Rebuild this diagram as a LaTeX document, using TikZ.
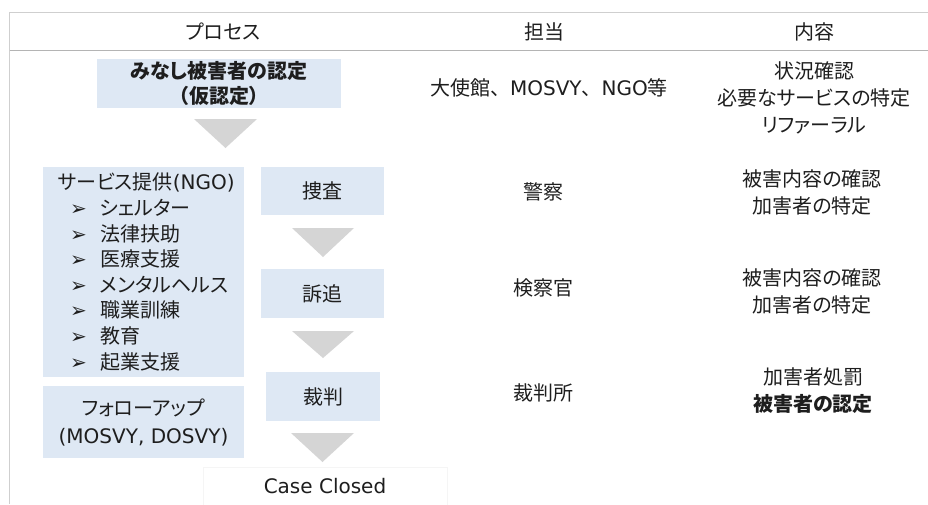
\documentclass[tikz,border=0pt]{standalone}
\usepackage{fontspec}
\setmainfont{Noto Sans CJK JP}[RawFeature=+palt]
\newfontfamily\jpw{Noto Sans CJK JP}
\newfontfamily\lat{DejaVu Sans}
\definecolor{boxblue}{HTML}{DEE8F4}
\definecolor{trigray}{HTML}{D5D5D5}
\definecolor{rulegray}{HTML}{CFCFCF}
\definecolor{headgray}{HTML}{B4B4B4}
\definecolor{txt}{HTML}{1E1E1E}
\newcommand{\bul}{\hspace*{12pt}\makebox[30pt][l]{\lat\fontsize{20}{20}\selectfont ➢}}
\begin{document}
\begin{tikzpicture}[x=1pt,y=-1pt,
  every node/.style={text=txt, inner sep=0pt, font=\fontsize{20}{27}\selectfont},
  procbox/.style={fill=boxblue, align=center},
  coltext/.style={align=center},
  tri/.style={fill=trigray}]
\fill[white] (0,0) rectangle (928,504);
\useasboundingbox (0,0) rectangle (928,504);
% table rules
\draw[rulegray, line width=1.5pt] (9.5,504) -- (9.5,12.5) -- (928,12.5);
\draw[headgray, line width=1.5pt] (9.5,50.5) -- (928,50.5);
% headers
\node (h1) at (223,32) {プロセス};
\node (h2) at (544,32) {担当};
\node (h3) at (814,32) {内容};
% process boxes
\node[procbox, minimum width=244pt, minimum height=49pt, font=\fontsize{20}{25}\selectfont\bfseries] (b1) at (219,83.5) {みなし被害者の認定\\（仮認定）};
\node[procbox, minimum width=201pt, minimum height=210pt, align=left, text width=171pt, font=\fontsize{20}{25.6}\selectfont] (svc) at (143.5,272)
  {サービス提供{\lat(NGO)}\\
   \bul シェルター\\
   \bul 法律扶助\\
   \bul 医療支援\\
   \bul メンタルヘルス\\
   \bul 職業訓練\\
   \bul 教育\\
   \bul 起業支援};
\node[procbox, minimum width=201pt, minimum height=72pt, font=\fontsize{20}{28}\selectfont] (fol) at (143.5,422) {フォローアップ\\{\lat(MOSVY, DOSVY)}};
\node[procbox, minimum width=123pt, minimum height=48pt] (s1) at (322.5,191) {捜査};
\node[procbox, minimum width=123pt, minimum height=49pt] (s2) at (322.5,293.5) {訴追};
\node[procbox, minimum width=114pt, minimum height=49pt] (s3) at (323,396.5) {裁判};
\node[draw=black!4, minimum width=244pt, minimum height=38pt] (cc) at (325,486) {\lat Case Closed};
% arrows (triangles)
\fill[tri] (194,119) -- (257,119) -- (225.5,148) -- cycle;
\fill[tri] (292,228) -- (354,228) -- (323,257) -- cycle;
\fill[tri] (292,331) -- (354,331) -- (323,358) -- cycle;
\fill[tri] (291,433) -- (354,433) -- (322.5,462) -- cycle;
% responsible
\node (r1) at (549,88) {大使館{\jpw 、}{\lat MOSVY}{\jpw 、}{\lat NGO}等};
\node (r2) at (543,192) {警察};
\node (r3) at (543,288) {検察官};
\node (r4) at (543,393) {裁判所};
% content
\node[coltext] (c1) at (814,98) {状況確認\\必要なサービスの特定\\リファーラル};
\node[coltext] (c2) at (812,192.5) {被害内容の確認\\加害者の特定};
\node[coltext] (c3) at (812,291) {被害内容の確認\\加害者の特定};
\node[coltext] (c4) at (813,390.5) {加害者処罰\\\textbf{被害者の認定}};
\end{tikzpicture}
\end{document}
